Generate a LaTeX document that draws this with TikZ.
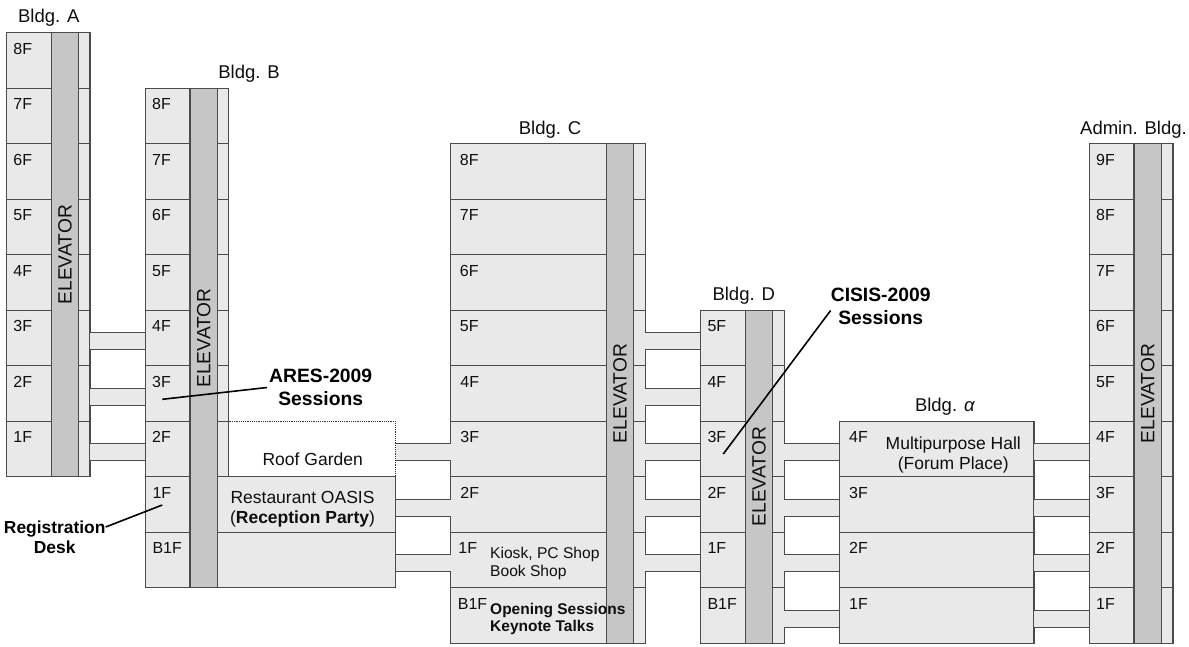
\documentclass[tikz,border=0pt]{standalone}
\usepackage{fontspec}
\setmainfont{Liberation Sans}
\usepackage{tikz}
\definecolor{wallline}{RGB}{75,75,75}
\definecolor{floorfill}{RGB}{233,233,233}
\definecolor{shaftfill}{RGB}{198,198,198}
\definecolor{inktext}{RGB}{15,15,15}

\begin{document}
\begin{tikzpicture}[
    x=1pt, y=-1pt,
    cell/.style={draw=wallline, fill=floorfill, line width=1.3pt, inner sep=0pt, outer sep=0pt, minimum height=55.5pt, anchor=north west},
    floortag/.style={inner sep=0pt, anchor=base west, text=inktext, font=\fontsize{16}{18}\selectfont},
    shaft/.style={draw=wallline, fill=shaftfill, line width=1.3pt, inner sep=0pt, outer sep=0pt, minimum height=27.4pt, rotate=90, text=inktext, font=\fontsize{19.2}{22}\selectfont},
    bldg/.style={inner sep=0pt, anchor=base, text=inktext, font=\fontsize{18.5}{22}\selectfont},
    room/.style={inner sep=0pt, align=center, text=inktext, font=\fontsize{17.5}{20}\selectfont},
    shop/.style={inner sep=0pt, align=left, anchor=north west, text=inktext, font=\fontsize{15.6}{17.5}\selectfont},
    callout/.style={inner sep=0pt, align=center, text=black, font=\bfseries\fontsize{19.3}{23}\selectfont},
    bridge/.style={draw=wallline, line width=1.3pt},
    leader/.style={draw=black, line width=1.6pt}
]
\useasboundingbox (0,0) rectangle (1189,646);

\node[draw=black!80, densely dotted, fill=white, line width=1.2pt, inner sep=0pt, outer sep=0pt, minimum width=167pt, minimum height=55.5pt, anchor=north west] (roof) at (228.7,421.25) {};

\foreach \flr [count=\i from 0] in {8F,7F,6F,5F,4F,3F,2F,1F} {
  \node[cell, minimum width=83.4pt] (a\flr) at (6.6,{32.75+55.5*\i}) {};
  \node[floortag] (a\flr t) at ([shift={(6.6pt,-21.7pt)}]a\flr.north west) {\flr};
}
\foreach \flr [count=\i from 0] in {8F,7F,6F,5F,4F,3F,2F} {
  \node[cell, minimum width=83.4pt] (b\flr) at (145.3,{88.25+55.5*\i}) {};
  \node[floortag] (b\flr t) at ([shift={(6.7pt,-21.7pt)}]b\flr.north west) {\flr};
}
\foreach \flr [count=\i from 0] in {1F,B1F} {
  \node[cell, minimum width=250.4pt] (b\flr) at (145.3,{476.75+55.5*\i}) {};
  \node[floortag] (b\flr t) at ([shift={(7pt,-21.7pt)}]b\flr.north west) {\flr};
}
\foreach \flr/\dx [count=\i from 0] in {8F/9,7F/9,6F/9,5F/9,4F/9.5,3F/9.5,2F/9.5,1F/7.5,B1F/7} {
  \node[cell, minimum width=194.6pt] (c\flr) at (450.7,{143.75+55.5*\i}) {};
  \node[floortag] (c\flr t) at ([shift={(\dx pt,-21.7pt)}]c\flr.north west) {\flr};
}
\foreach \flr [count=\i from 0] in {5F,4F,3F,2F,1F,B1F} {
  \node[cell, minimum width=84pt] (d\flr) at (700.3,{310.25+55.5*\i}) {};
  \node[floortag] (d\flr t) at ([shift={(7pt,-21.7pt)}]d\flr.north west) {\flr};
}
\foreach \flr [count=\i from 0] in {4F,3F,2F,1F} {
  \node[cell, minimum width=194.7pt] (al\flr) at (839.3,{421.25+55.5*\i}) {};
  \node[floortag] (al\flr t) at ([shift={(9.7pt,-21.7pt)}]al\flr.north west) {\flr};
}
\foreach \flr [count=\i from 0] in {9F,8F,7F,6F,5F,4F,3F,2F,1F} {
  \node[cell, minimum width=83.7pt] (ad\flr) at (1089.3,{143.75+55.5*\i}) {};
  \node[floortag] (ad\flr t) at ([shift={(6.7pt,-21.7pt)}]ad\flr.north west) {\flr};
}

\node[shaft, minimum width=444pt] (aelev) at (65,254.75) {ELEVATOR};
\node[shaft, minimum width=499.5pt] (belev) at (203.7,338) {ELEVATOR};
\node[shaft, minimum width=499.5pt] (celev) at (620,393.5) {ELEVATOR};
\node[shaft, minimum width=333pt] (delev) at (759,476.75) {ELEVATOR};
\node[shaft, minimum width=499.5pt] (adelev) at (1147.8,393.5) {ELEVATOR};

\foreach \from/\to in {a3F/b4F, a2F/b3F, a1F/b2F, roof/c3F, b1F/c2F, bB1F/c1F, c5F/d5F, c4F/d4F, c3F/d3F, c2F/d2F, c1F/d1F, d3F/al4F, d2F/al3F, d1F/al2F, dB1F/al1F, al4F/ad4F, al3F/ad3F, al2F/ad2F, al1F/ad1F} {
  \fill[floorfill] ([yshift=5.25pt]\from.east) rectangle ([yshift=-11.75pt]\to.west);
  \draw[bridge] ([yshift=5.25pt]\from.east) -- ([yshift=5.25pt]\to.west);
  \draw[bridge] ([yshift=-11.75pt]\from.east) -- ([yshift=-11.75pt]\to.west);
}

\node[bldg] (blda) at (48.8,22.7) {Bldg. A};
\node[bldg] (bldb) at (249,78.3) {Bldg. B};
\node[bldg] (bldc) at (550,134) {Bldg. C};
\node[bldg] (bldd) at (743.7,300.7) {Bldg. D};
\node[bldg] (bldal) at (945,411.7) {Bldg. \textit{α}};
\node[bldg] (bldad) at (1133.5,134) {Admin. Bldg.};

\node[room, anchor=base] (garden) at (312.7,465.3) {Roof Garden};
\node[room] (oasis) at (302.5,509) {Restaurant OASIS\\(\textbf{Reception Party})};
\node[room] (hall) at (953.3,454.5) {Multipurpose Hall\\(Forum Place)};
\node[shop] (kiosk) at (490,547) {Kiosk, PC Shop\\Book Shop};
\node[shop, font=\bfseries\fontsize{15.5}{17.5}\selectfont] (opening) at (490,603) {Opening Sessions\\Keynote Talks};

\node[callout] (ares) at (320.7,387.5) {ARES-2009\\Sessions};
\node[callout] (cisis) at (880.7,306.5) {CISIS-2009\\Sessions};
\node[callout, font=\bfseries\fontsize{17.4}{20}\selectfont] (desk) at (54.7,537) {Registration\\Desk};

\coordinate (aresend) at (162.3,399.3);
\coordinate (cisisend) at (723.3,454);
\coordinate (deskend) at (162.3,505);

\draw[leader] ([xshift=-2pt]ares.west) -- (aresend);
\draw[leader] ([yshift=-4pt]cisis.west) -- (cisisend);
\draw[leader] ([yshift=10pt]desk.east) -- (deskend);
\end{tikzpicture}
\end{document}
